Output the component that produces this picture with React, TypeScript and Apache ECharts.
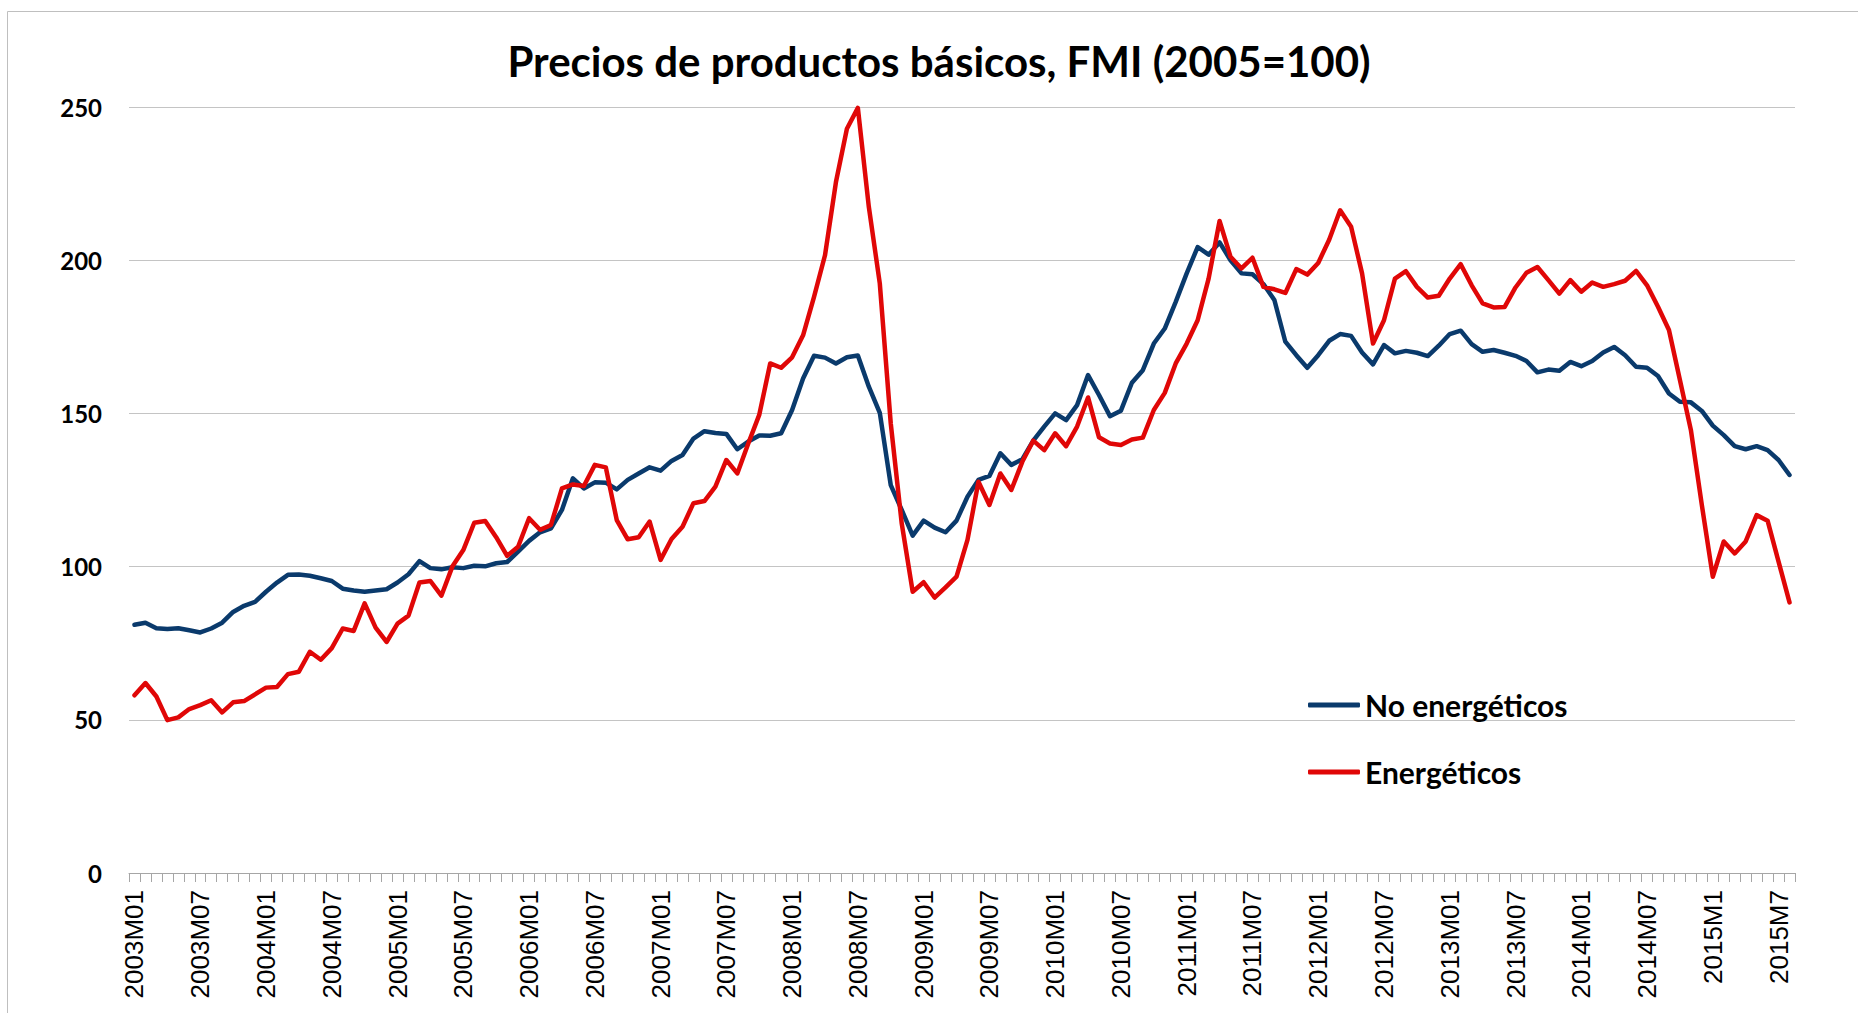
import React, { useEffect, useRef } from "react";
import * as echarts from "echarts";

const years = [2003, 2004, 2005, 2006, 2007, 2008, 2009, 2010, 2011, 2012, 2013, 2014, 2015];
const lastMonth2015 = 8;
const categories: string[] = [];
years.forEach((y) => {
  const n = y === 2015 ? lastMonth2015 : 12;
  for (let m = 1; m <= n; m++) {
    categories.push(y === 2015 ? `${y}M${m}` : `${y}M${m < 10 ? "0" + m : m}`);
  }
});

const seriesNames = ["No energéticos", "Energéticos"];

// No energéticos (monthly, 2003M01 - 2015M08)
const nonEnergy = [
  81.0, 81.7, 79.9, 79.6, 79.9, 79.2, 78.5, 79.8, 81.7, 85.2, 87.2, 88.5,
  91.8, 94.8, 97.3, 97.4, 97.0, 96.2, 95.3, 92.8, 92.2, 91.8, 92.2, 92.6,
  94.8, 97.5, 101.8, 99.5, 99.1, 99.8, 99.5, 100.3, 100.1, 101.1, 101.5, 104.9,
  108.4, 111.2, 112.5, 118.5, 128.8, 125.5, 127.5, 127.4, 125.2, 128.3, 130.4, 132.4,
  131.3, 134.5, 136.4, 141.8, 144.2, 143.6, 143.3, 138.3, 140.8, 142.8, 142.7, 143.5,
  151.1, 161.4, 168.8, 168.2, 166.3, 168.3, 168.9, 158.7, 150.2, 126.6, 118.5, 110.1,
  115.0, 112.7, 111.2, 115.0, 122.8, 128.3, 129.6, 137.0, 133.2, 135.0, 141.1, 145.7,
  150.0, 147.8, 152.7, 162.5, 156.0, 149.1, 150.9, 160.0, 164.1, 172.8, 177.7, 186.4,
  195.7, 204.3, 201.8, 205.8, 200.0, 195.7, 195.4, 192.2, 187.0, 173.4, 169.0, 164.9,
  169.0, 173.7, 175.9, 175.3, 169.9, 166.0, 172.3, 169.6, 170.4, 169.8, 168.7, 172.1,
  175.9, 177.0, 172.6, 170.1, 170.7, 169.8, 168.8, 167.1, 163.4, 164.3, 163.9, 166.8,
  165.4, 167.1, 169.9, 171.7, 169.0, 165.2, 164.9, 162.2, 156.5, 153.8, 153.6, 150.8,
  146.0, 142.9, 139.3, 138.3, 139.3, 138.0, 134.8, 129.9,
];

// Energéticos (monthly, 2003M01 - 2015M08)
const energy = [
  58.0, 62.0, 57.6, 49.9, 50.8, 53.5, 54.8, 56.4, 52.4, 55.7, 56.1, 58.3,
  60.5, 60.7, 64.9, 65.7, 72.2, 69.6, 73.4, 79.8, 79.0, 88.0, 80.1, 75.4,
  81.4, 84.0, 94.8, 95.3, 90.5, 100.0, 105.4, 114.3, 114.9, 109.6, 103.5, 106.5,
  115.8, 112.0, 113.6, 125.5, 126.8, 126.3, 133.2, 132.4, 115.2, 108.9, 109.6, 114.7,
  102.2, 109.0, 113.0, 120.7, 121.4, 126.1, 134.8, 130.4, 140.2, 149.5, 166.3, 164.9,
  168.3, 175.5, 188.0, 201.6, 225.5, 242.9, 249.7, 217.4, 192.4, 146.7, 114.1, 91.8,
  94.9, 89.9, 93.2, 96.7, 108.7, 127.7, 120.1, 130.4, 125.0, 134.2, 141.1, 138.0,
  143.5, 139.3, 145.7, 155.2, 142.2, 140.2, 139.7, 141.5, 142.1, 151.1, 156.7, 166.3,
  172.8, 180.4, 194.0, 212.8, 201.1, 197.3, 200.8, 191.3, 190.5, 189.3, 197.1, 195.3,
  199.1, 206.7, 216.3, 210.9, 195.7, 172.8, 180.4, 194.0, 196.4, 191.3, 187.8, 188.4,
  194.0, 198.7, 191.8, 185.9, 184.6, 184.7, 191.1, 195.9, 197.8, 193.5, 189.1, 193.5,
  189.7, 192.7, 191.3, 192.2, 193.3, 196.5, 191.8, 184.8, 177.2, 160.9, 144.6, 120.1,
  96.7, 108.2, 104.3, 108.2, 116.8, 115.0, 101.6, 88.3,
];

const yMin = 0;
const yMax = 250;
const yStep = 50;

const titleText = "Precios de productos básicos, FMI (2005=100)";

export default function App() {
  const ref = useRef<HTMLDivElement>(null);

  useEffect(() => {
    document.body.style.margin = "0";
    if (!ref.current) return;
    const chart = echarts.init(ref.current, undefined, { renderer: "svg" });
    chart.setOption({
      animation: false,
      backgroundColor: "#ffffff",
      title: {
        text: titleText,
        left: 939,
        top: 40,
        padding: 0,
        textAlign: "center",
        textStyle: {
          fontFamily: "Lato",
          fontWeight: "bold",
          fontSize: 42,
          color: "#000000",
        },
      },
      legend: {
        orient: "vertical",
        left: 1308,
        top: 690,
        padding: 0,
        icon: "roundRect",
        itemWidth: 52,
        itemHeight: 5,
        itemGap: 37,
        data: seriesNames,
        textStyle: {
          fontFamily: "Lato",
          fontWeight: "bold",
          fontSize: 30,
          lineHeight: 30,
          color: "#000000",
        },
      },
      graphic: [
        {
          type: "rect",
          shape: { x: 7.5, y: 11.5, width: 2000, height: 1200 },
          style: { fill: "none", stroke: "#bfbfbf", lineWidth: 1 },
          silent: true,
        },
      ],
      grid: { left: 129, right: 63, top: 107, bottom: 140, containLabel: false },
      xAxis: {
        type: "category",
        data: categories,
        boundaryGap: true,
        axisLine: { show: true, lineStyle: { color: "#a6a6a6", width: 1 } },
        axisTick: { show: true, interval: 0, length: 9, lineStyle: { color: "#a6a6a6" } },
        axisLabel: {
          interval: 5,
          rotate: 90,
          margin: 17,
          fontFamily: "Liberation Sans",
          fontSize: 26,
          color: "#000000",
        },
        splitLine: { show: false },
      },
      yAxis: {
        type: "value",
        min: yMin,
        max: yMax,
        interval: yStep,
        axisLine: { show: false },
        axisTick: { show: false },
        axisLabel: {
          margin: 27,
          fontFamily: "Lato",
          fontWeight: "bold",
          fontSize: 24,
          color: "#000000",
        },
        splitLine: { show: true, lineStyle: { color: "#c4c4c4", width: 1 } },
      },
      series: [
        {
          name: seriesNames[0],
          type: "line",
          data: nonEnergy,
          symbol: "none",
          color: "#0a3a6c",
          lineStyle: { width: 4.5, color: "#0a3a6c", cap: "round", join: "round" },
          z: 3,
        },
        {
          name: seriesNames[1],
          type: "line",
          data: energy,
          symbol: "none",
          color: "#e00707",
          lineStyle: { width: 4.5, color: "#e00707", cap: "round", join: "round" },
          z: 4,
        },
      ],
    });
    return () => chart.dispose();
  }, []);

  return (
    <div
      ref={ref}
      style={{ position: "fixed", left: 0, top: 0, width: 1858, height: 1013 }}
    />
  );
}
